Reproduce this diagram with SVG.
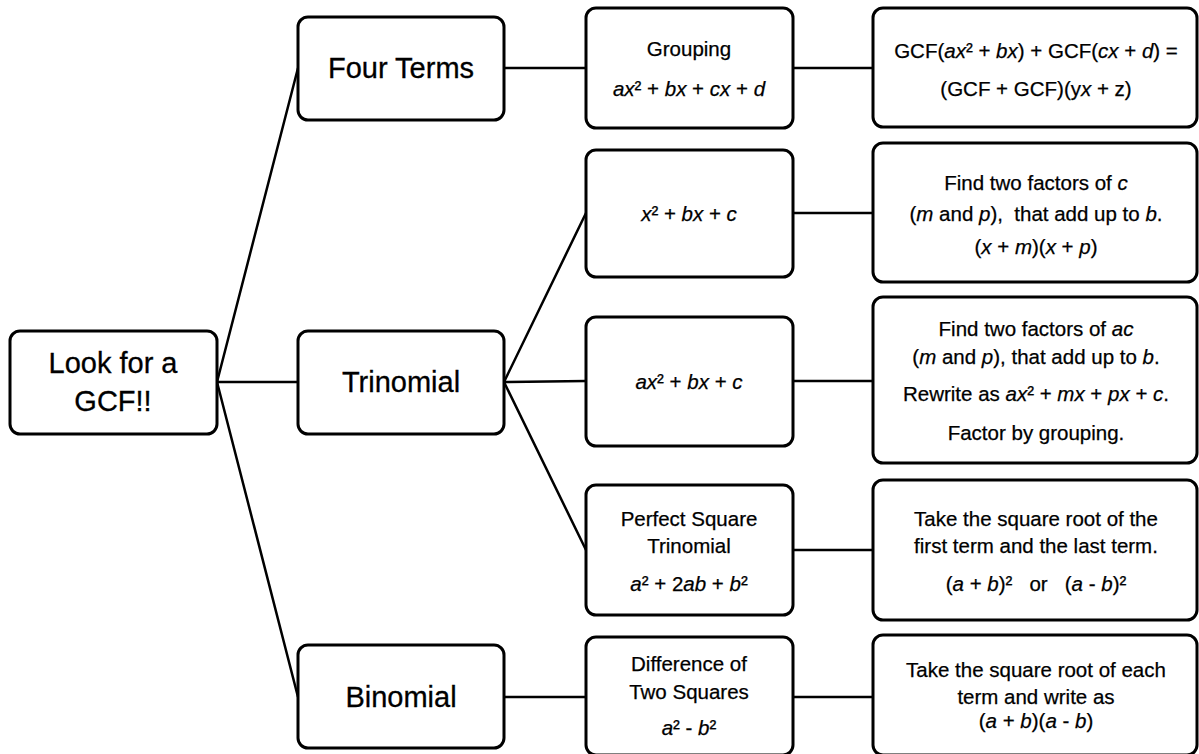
<svg xmlns="http://www.w3.org/2000/svg" width="1199" height="754" viewBox="0 0 1199 754">
<style>
.box{fill:#fff;stroke:#000;stroke-width:3;}
.big{font-family:"Liberation Sans",Arial,sans-serif;font-size:29px;text-anchor:middle;dominant-baseline:central;fill:#000;stroke:#000;stroke-width:0.3;}
.t{font-family:"Liberation Sans",Arial,sans-serif;font-size:20.5px;text-anchor:middle;dominant-baseline:central;fill:#000;stroke:#000;stroke-width:0.25;white-space:pre;}
.i{font-style:italic;}
.c{stroke:#000;stroke-width:2.5;fill:none;}
</style>
<rect width="1199" height="754" fill="#fff"/>
<g id="connectors">
<path class="c" d="M217,382 L298,68 M217,382 L298,382 M217,382 L298,697"/>
<path class="c" d="M504,68 L586,68 M793,68 L873,68"/>
<path class="c" d="M504,382 L586,213 M504,382 L586,381 M504,382 L586,550"/>
<path class="c" d="M793,213 L873,213 M793,381 L873,381 M793,550 L873,550"/>
<path class="c" d="M504,697 L586,697 M793,697 L873,697"/>
</g>
<g id="gcf">
<rect class="box" x="10" y="331" width="207" height="103" rx="10"/>
<text class="big" x="113" y="363">Look for a</text>
<text class="big" x="113" y="401">GCF!!</text>
</g>
<g id="four-terms">
<rect class="box" x="298" y="17" width="206" height="103" rx="10"/>
<text class="big" x="401" y="68">Four Terms</text>
</g>
<g id="trinomial">
<rect class="box" x="298" y="331" width="206" height="103" rx="10"/>
<text class="big" x="401" y="382">Trinomial</text>
</g>
<g id="binomial">
<rect class="box" x="298" y="645" width="206" height="103" rx="10"/>
<text class="big" x="401" y="697">Binomial</text>
</g>
<g id="grouping">
<rect class="box" x="586" y="8" width="207" height="120" rx="10"/>
<text class="t" x="689" y="48">Grouping</text>
<text class="t" x="689" y="88"><tspan class="i">ax</tspan>² + <tspan class="i">bx</tspan> + <tspan class="i">cx</tspan> + <tspan class="i">d</tspan></text>
</g>
<g id="x2bxc">
<rect class="box" x="586" y="150" width="207" height="127" rx="10"/>
<text class="t" x="689" y="213"><tspan class="i">x</tspan>² + <tspan class="i">bx</tspan> + <tspan class="i">c</tspan></text>
</g>
<g id="ax2bxc">
<rect class="box" x="586" y="317" width="207" height="129" rx="10"/>
<text class="t" x="689" y="381"><tspan class="i">ax</tspan>² + <tspan class="i">bx</tspan> + <tspan class="i">c</tspan></text>
</g>
<g id="perfect-square">
<rect class="box" x="586" y="485" width="207" height="130" rx="10"/>
<text class="t" x="689" y="518">Perfect Square</text>
<text class="t" x="689" y="545">Trinomial</text>
<text class="t" x="689" y="583"><tspan class="i">a</tspan>² + 2<tspan class="i">ab</tspan> + <tspan class="i">b</tspan>²</text>
</g>
<g id="difference">
<rect class="box" x="586" y="637" width="207" height="118" rx="10"/>
<text class="t" x="689" y="663">Difference of</text>
<text class="t" x="689" y="691">Two Squares</text>
<text class="t" x="689" y="727"><tspan class="i">a</tspan>² - <tspan class="i">b</tspan>²</text>
</g>
<g id="grouping-rule">
<rect class="box" x="873" y="8" width="324" height="119" rx="10"/>
<text class="t" x="1036" y="50">GCF(<tspan class="i">ax</tspan>² + <tspan class="i">bx</tspan>) + GCF(<tspan class="i">cx</tspan> + <tspan class="i">d</tspan>) =</text>
<text class="t" x="1036" y="88">(GCF + GCF)(y<tspan class="i">x</tspan> + z)</text>
</g>
<g id="simple-trinomial-rule">
<rect class="box" x="873" y="143" width="324" height="139" rx="10"/>
<text class="t" x="1036" y="182">Find two factors of <tspan class="i">c</tspan></text>
<text class="t" x="1036" y="213">(<tspan class="i">m</tspan> and <tspan class="i">p</tspan>),  that add up to <tspan class="i">b</tspan>.</text>
<text class="t" x="1036" y="246">(<tspan class="i">x</tspan> + <tspan class="i">m</tspan>)(<tspan class="i">x</tspan> + <tspan class="i">p</tspan>)</text>
</g>
<g id="ac-rule">
<rect class="box" x="873" y="297" width="324" height="166" rx="10"/>
<text class="t" x="1036" y="328">Find two factors of <tspan class="i">ac</tspan></text>
<text class="t" x="1036" y="356">(<tspan class="i">m</tspan> and <tspan class="i">p</tspan>), that add up to <tspan class="i">b</tspan>.</text>
<text class="t" x="1036" y="393">Rewrite as <tspan class="i">ax</tspan>² + <tspan class="i">mx</tspan> + <tspan class="i">px</tspan> + <tspan class="i">c</tspan>.</text>
<text class="t" x="1036" y="432">Factor by grouping.</text>
</g>
<g id="perfect-square-rule">
<rect class="box" x="873" y="480" width="324" height="140" rx="10"/>
<text class="t" x="1036" y="518">Take the square root of the</text>
<text class="t" x="1036" y="545">first term and the last term.</text>
<text class="t" x="1036" y="583">(<tspan class="i">a</tspan> + <tspan class="i">b</tspan>)²   or   (<tspan class="i">a</tspan> - <tspan class="i">b</tspan>)²</text>
</g>
<g id="difference-rule">
<rect class="box" x="873" y="635" width="324" height="120" rx="10"/>
<text class="t" x="1036" y="669">Take the square root of each</text>
<text class="t" x="1036" y="696">term and write as</text>
<text class="t" x="1036" y="720">(<tspan class="i">a</tspan> + <tspan class="i">b</tspan>)(<tspan class="i">a</tspan> - <tspan class="i">b</tspan>)</text>
</g>
</svg>
